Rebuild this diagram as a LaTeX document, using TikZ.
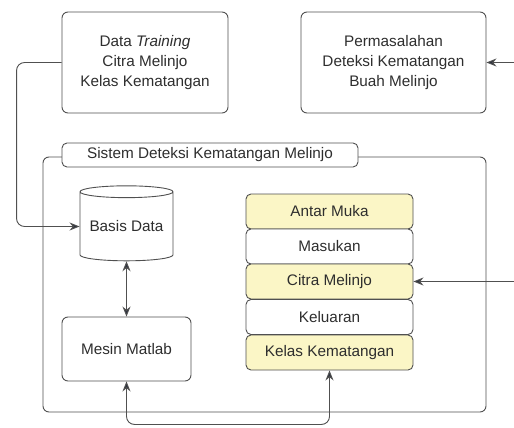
\documentclass[tikz,border=0pt]{standalone}
\usepackage{fontspec}
\setmainfont{Liberation Sans}
\usetikzlibrary{shapes.geometric,arrows.meta}
\definecolor{lineGray}{HTML}{505050}
\definecolor{textGray}{HTML}{2E2E2E}
\definecolor{tipGray}{HTML}{2F3440}
\definecolor{paleYellow}{HTML}{FBF6C6}
\begin{document}
\begin{tikzpicture}[x=1pt,y=-1pt]
		\tikzstyle{Box} = [rectangle, rounded corners=6pt, draw=lineGray, line width=0.9pt, fill=white, text=textGray, align=center, inner sep=0pt, font=\fontsize{15.3}{20}\selectfont]
		\tikzstyle{Layer} = [Box, minimum width=167pt, minimum height=35pt, rounded corners=5pt]
		\tikzstyle{Store} = [cylinder, shape border rotate=90, aspect=0.16, draw=lineGray, line width=0.9pt, fill=white, text=textGray, inner sep=0pt, font=\fontsize{15.3}{20}\selectfont]
		\tikzstyle{arrow} = [draw=lineGray, line width=0.9pt, -{Stealth[length=10pt,width=8pt,fill=tipGray]}, rounded corners=8pt]
		\tikzstyle{biarrow} = [draw=lineGray, line width=0.9pt, {Stealth[length=10pt,width=8pt,fill=tipGray]}-{Stealth[length=10pt,width=8pt,fill=tipGray]}, rounded corners=8pt]
		
		\useasboundingbox (0,0) rectangle (514,428);
		\node (dataTrain) [Box, minimum width=166pt, minimum height=101pt] at (145,62.5) {Data \textit{Training}\\Citra Melinjo\\Kelas Kematangan};
		\node (masalah) [Box, minimum width=185pt, minimum height=101pt] at (393.5,62.5) {Permasalahan\\Deteksi Kematangan\\Buah Melinjo};
		\node (sistem) [Box, minimum width=443pt, minimum height=255pt] at (264.5,284.5) {};
		\node (sistemLbl) [Box, minimum width=296pt, minimum height=24pt, rounded corners=5pt] at (210,155) {Sistem Deteksi Kematangan Melinjo};
		\node (basisData) [Store, minimum width=93pt, minimum height=75pt] at (126.5,226.5) {Basis Data};
		\node (mesin) [Box, minimum width=129pt, minimum height=64pt] at (126.5,349) {Mesin Matlab};
		\node (antarMuka) [Layer, fill=paleYellow] at (329.5,211.5) {Antar Muka};
		\node (masukan) [Layer] at (329.5,246.5) {Masukan};
		\node (citra) [Layer, fill=paleYellow] at (329.5,281.5) {Citra Melinjo};
		\node (keluaran) [Layer] at (329.5,317) {Keluaran};
		\node (kelas) [Layer, fill=paleYellow] at (329.5,352.5) {Kelas Kematangan};
		\coordinate (inMasalah) at (514,62.5);
		\coordinate (inCitra) at (514,281.5);
		
		\draw [arrow] (dataTrain.west) -- ++(-45,0) |- (basisData.west);
		\draw [arrow] (inMasalah) -- (masalah.east);
		\draw [arrow] (inCitra) -- (citra.east);
		\draw [biarrow] (basisData.south) -- (mesin.north);
		\draw [biarrow] (mesin.south) -- ++(0,43) -| (kelas.south);
\end{tikzpicture}
\end{document}
